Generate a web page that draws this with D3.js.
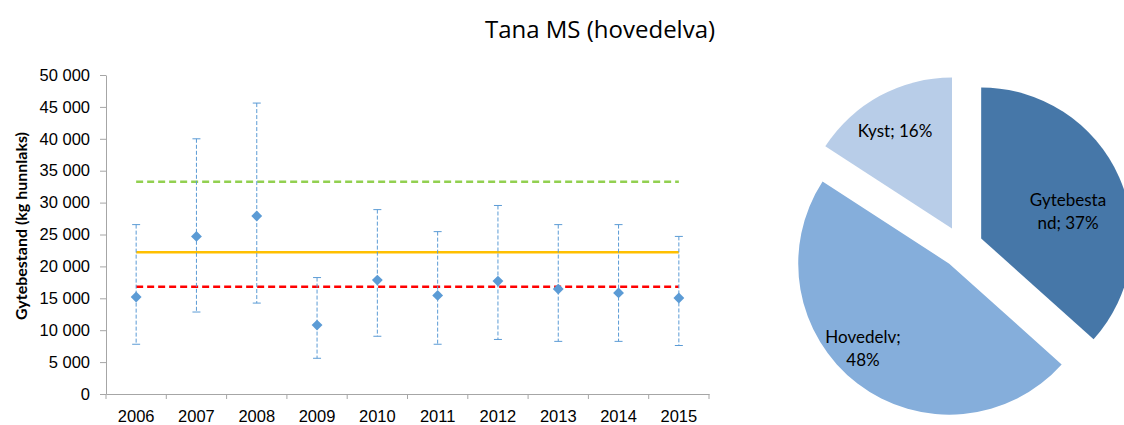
<!DOCTYPE html>
<html>
<head>
<meta charset="utf-8">
<script src="https://cdn.jsdelivr.net/npm/d3@7"></script>
<style>
  body { margin: 0; background: #fff; }
  svg { font-family: Lato, "Open Sans", sans-serif; }
</style>
</head>
<body>
<svg id="drawing_region"></svg>
<script>
// data
const years = ['2006','2007','2008','2009','2010','2011','2012','2013','2014','2015'];
const estimate = [15200, 24700, 27900, 10800, 17850, 15450, 17700, 16450, 15850, 15050];
const upper = [26550, 40000, 45600, 18250, 28900, 25450, 29550, 26550, 26550, 24700];
const lower = [7800, 12850, 14250, 5600, 9050, 7800, 8550, 8250, 8250, 7600];
const yticks = [0, 5000, 10000, 15000, 20000, 25000, 30000, 35000, 40000, 45000, 50000];
const refLevels = [33250, 22200, 16800];
const refColors = ['#92D050', '#FFC000', '#FF0000'];
const refDash = ['7,4', null, '7,4'];

const pieLabels = [['Gytebesta', 'nd; 37%'], ['Hovedelv;', '48%'], ['Kyst; 16%']];
const pieValues = [37, 48, 16];
const pieColors = ['#4677A8', '#85AEDB', '#B8CDE8'];

const W = 1124, H = 425;
const svg = d3.select('#drawing_region').attr('width', W).attr('height', H);

svg.append('text')
    .attr('x', 600).attr('y', 38)
    .attr('text-anchor', 'middle')
    .attr('font-family', '"Open Sans", sans-serif')
    .attr('font-size', '24px')
    .attr('fill', '#000')
    .text('Tana MS (hovedelva)');

// ---- left chart
const margin = {left: 106, top: 75, right: 415, bottom: 31};
const iw = W - margin.left - margin.right;
const ih = H - margin.top - margin.bottom;
const chart = svg.append('g').attr('transform', `translate(${margin.left}, ${margin.top})`);

const xscale = d3.scaleBand().domain(years).range([0, iw]).padding(0);
const yscale = d3.scaleLinear().domain([0, 50000]).range([ih, 0]);
const fmt = v => d3.format(',')(v).replace(',', ' ');

const yaxis = d3.axisLeft(yscale).tickValues(yticks).tickFormat(fmt).tickSize(6).tickSizeOuter(0).tickPadding(10);
const yg = chart.append('g').call(yaxis);
yg.select('.domain').attr('stroke', '#A6A6A6');
yg.selectAll('.tick line').attr('stroke', '#A6A6A6');
yg.selectAll('text').attr('font-size', '16.5px').attr('fill', '#000');

const xaxis = d3.axisBottom(xscale).tickSize(0).tickPadding(16);
const xg = chart.append('g').attr('transform', `translate(0, ${ih})`).call(xaxis);
xg.select('.domain').attr('stroke', '#A6A6A6');
xg.selectAll('text').attr('font-size', '16.5px').attr('fill', '#000');
xg.selectAll('line.edge')
    .data(years.map(d => xscale(d)).concat([iw]))
    .enter().append('line')
    .attr('class', 'edge')
    .attr('x1', d => d).attr('x2', d => d)
    .attr('y1', 0).attr('y2', 5)
    .attr('stroke', '#A6A6A6');

svg.append('text')
    .attr('transform', `translate(27, 226) rotate(-90)`)
    .attr('text-anchor', 'middle')
    .attr('font-size', '16px')
    .attr('font-weight', 700)
    .text('Gytebestand (kg hunnlaks)');

const cx = d => xscale(d) + xscale.bandwidth() / 2;

// reference levels
chart.selectAll('line.ref')
    .data(refLevels)
    .enter().append('line')
    .attr('class', 'ref')
    .attr('x1', cx(years[0])).attr('x2', cx(years[years.length - 1]))
    .attr('y1', d => yscale(d)).attr('y2', d => yscale(d))
    .attr('stroke', (d, i) => refColors[i])
    .attr('stroke-width', 2.5)
    .attr('stroke-dasharray', (d, i) => refDash[i]);

// error bars
const eb = chart.selectAll('g.eb').data(years).enter().append('g').attr('class', 'eb');
eb.append('line')
    .attr('x1', d => cx(d)).attr('x2', d => cx(d))
    .attr('y1', (d, i) => yscale(upper[i])).attr('y2', (d, i) => yscale(lower[i]))
    .attr('stroke', '#5B9BD5').attr('stroke-width', 1)
    .attr('stroke-dasharray', '4,2');
[upper, lower].forEach(arr => {
    eb.append('line')
        .attr('x1', d => cx(d) - 4).attr('x2', d => cx(d) + 4)
        .attr('y1', (d, i) => yscale(arr[i])).attr('y2', (d, i) => yscale(arr[i]))
        .attr('stroke', '#5B9BD5').attr('stroke-width', 1);
});

chart.selectAll('path.pt')
    .data(years)
    .enter().append('path')
    .attr('class', 'pt')
    .attr('d', d3.symbol(d3.symbolDiamond2, 75))
    .attr('transform', (d, i) => `translate(${cx(d)}, ${yscale(estimate[i])})`)
    .attr('fill', '#5B9BD5');

// ---- pie
const pc = {x: 962, y: 247};
const r = 151, explode = 21;
const pie = d3.pie().sort(null).value(d => d)(pieValues);
const arc = d3.arc().innerRadius(0).outerRadius(r);
const pieG = svg.append('g').attr('transform', `translate(${pc.x}, ${pc.y})`);

const slices = pieG.selectAll('g.slice').data(pie).enter().append('g')
    .attr('class', 'slice')
    .attr('transform', d => {
        const a = (d.startAngle + d.endAngle) / 2;
        return `translate(${explode * Math.sin(a)}, ${-explode * Math.cos(a)})`;
    });
slices.append('path')
    .attr('d', arc)
    .attr('fill', (d, i) => pieColors[i]);

const labelPos = [[106, -41], [-99, 96], [-67, -110]];
slices.append('text')
    .attr('text-anchor', 'middle')
    .attr('font-size', '17px')
    .attr('fill', '#000')
    .attr('transform', (d, i) => {
        const a = (d.startAngle + d.endAngle) / 2;
        return `translate(${labelPos[i][0] - explode * Math.sin(a)}, ${labelPos[i][1] + explode * Math.cos(a)})`;
    })
    .selectAll('tspan')
    .data((d, i) => pieLabels[i])
    .enter().append('tspan')
    .attr('x', 0)
    .attr('dy', (d, j) => j === 0 ? 0 : 23)
    .text(d => d);
</script>
</body>
</html>
